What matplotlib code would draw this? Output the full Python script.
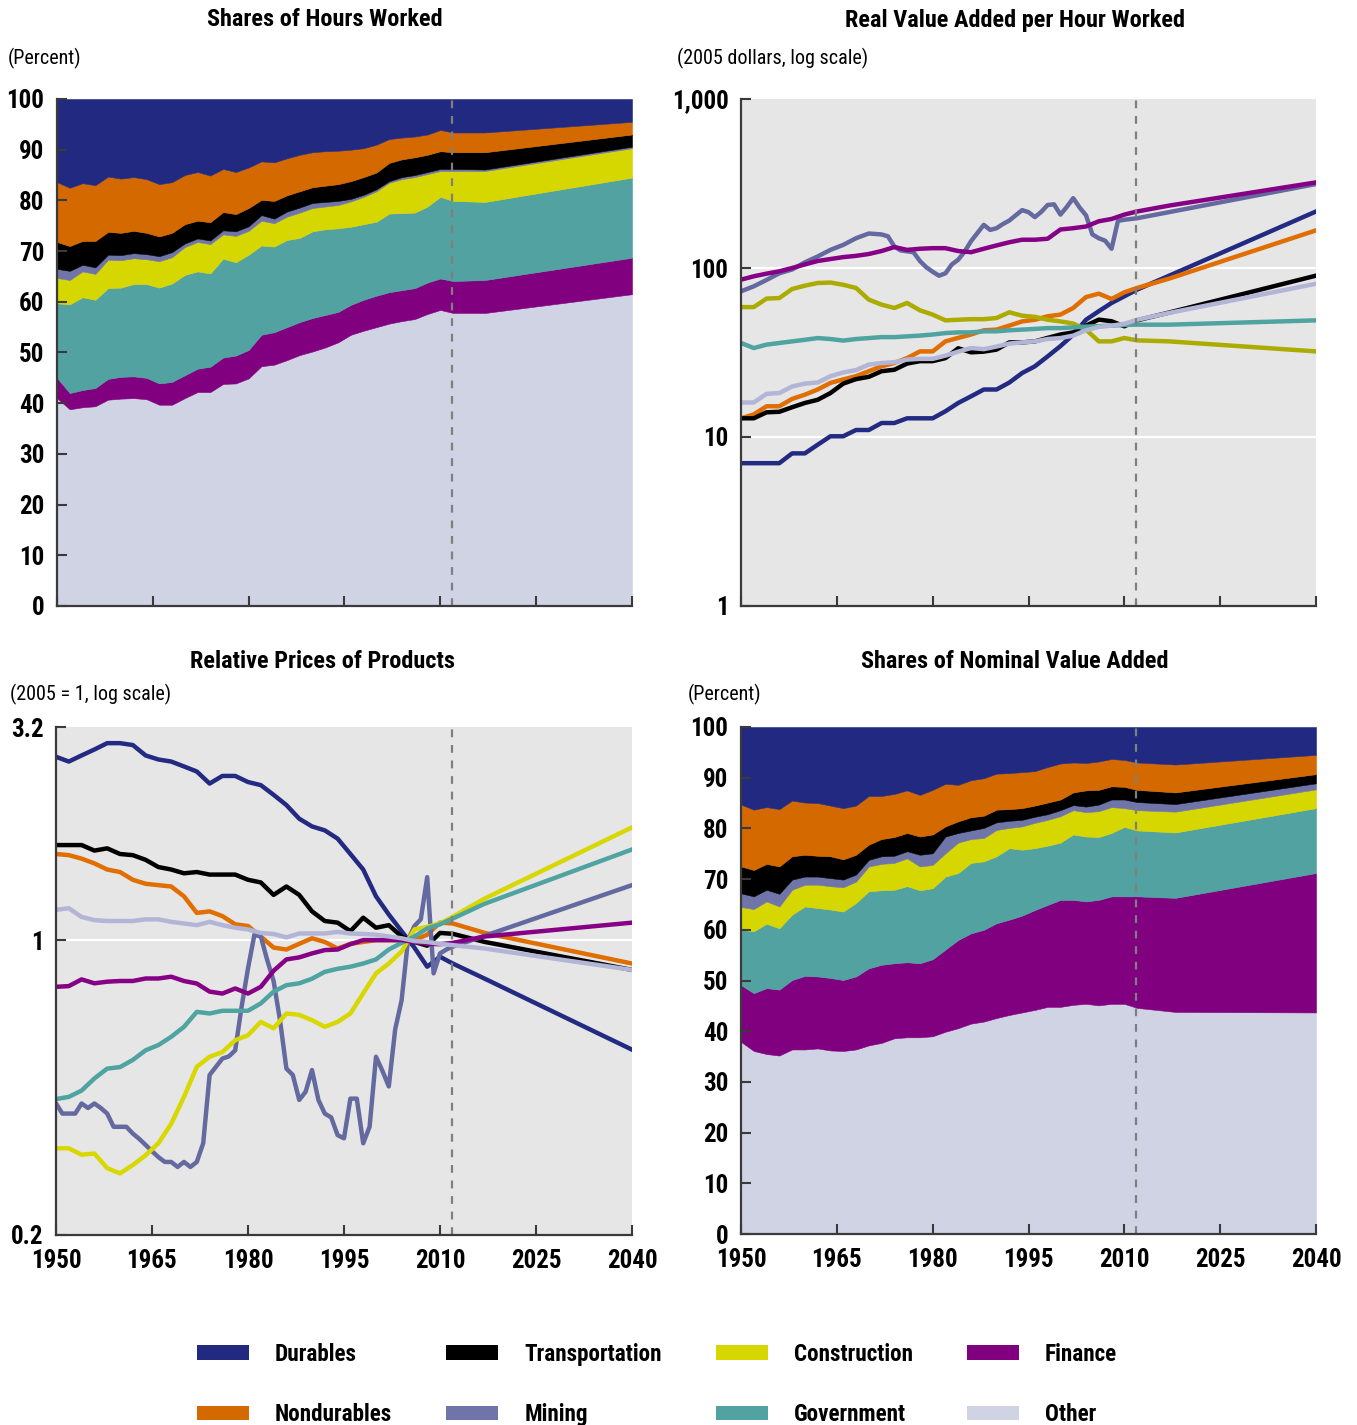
import matplotlib
matplotlib.use("Agg")
import matplotlib.pyplot as plt
from matplotlib import font_manager
from matplotlib.patches import Patch
from matplotlib.ticker import NullLocator

_names = {f.name for f in font_manager.fontManager.ttflist}
FONT = "DejaVu Sans"
for cand in ["Liberation Sans Narrow", "Roboto Condensed", "Liberation Sans"]:
    if cand in _names:
        FONT = cand
        break
plt.rcParams["font.family"] = [FONT, "DejaVu Sans"]

# ---------------------------------------------------------------- data
sectors = ["Durables", "Nondurables", "Transportation", "Mining",
           "Construction", "Government", "Finance", "Other"]

# Shares of hours worked (percent)
hours_years = list(range(1950, 2013, 2)) + [2017, 2040]
hours_other = [41.0, 38.8, 39.2, 39.4, 40.7, 40.9, 41.0, 40.8, 39.7, 39.7, 41.0, 42.2, 42.2, 43.8, 43.9, 44.9, 47.3,
               47.6, 48.5, 49.5, 50.2, 51.0, 52.0, 53.5, 54.3, 55.0, 55.7, 56.2, 56.6, 57.6, 58.4, 57.8, 57.8, 61.5]
hours_finance = [4.0, 3.2, 3.4, 3.6, 4.1, 4.3, 4.3, 4.2, 4.2, 4.5, 4.5, 4.6, 5.0, 5.2, 5.5, 5.6, 6.2,
                 6.4, 6.5, 6.5, 6.6, 6.4, 6.0, 5.9, 6.1, 6.2, 6.2, 6.1, 6.1, 6.2, 6.2, 6.3, 6.5, 7.2]
hours_government = [14.7, 17.5, 18.3, 17.4, 17.9, 17.6, 18.2, 18.5, 18.9, 19.4, 19.8, 19.2, 18.4, 19.5, 18.4, 18.8, 17.6,
                    16.9, 17.2, 16.6, 17.1, 16.9, 16.5, 15.4, 14.9, 14.6, 15.5, 15.2, 14.9, 15.0, 16.1, 15.8, 15.4, 15.8]
hours_construction = [5.0, 4.8, 5.1, 5.1, 5.6, 5.4, 5.1, 4.9, 5.2, 5.2, 5.5, 5.8, 5.8, 4.8, 5.2, 4.7, 4.9,
                      4.6, 4.6, 5.0, 4.6, 4.5, 4.6, 5.0, 5.4, 6.0, 6.1, 6.7, 7.0, 6.4, 5.1, 5.9, 6.1, 5.8]
hours_mining = [1.8, 1.8, 1.3, 1.3, 1.0, 1.0, 1.0, 1.0, 1.0, 1.0, 0.7, 0.7, 0.7, 0.8, 0.9, 0.9, 1.1,
                0.9, 1.0, 1.0, 1.0, 0.9, 0.8, 0.5, 0.4, 0.4, 0.3, 0.4, 0.4, 0.4, 0.4, 0.4, 0.3, 0.3]
hours_transportation = [5.3, 4.9, 4.7, 5.2, 4.5, 4.4, 4.4, 4.2, 3.9, 3.8, 3.8, 3.5, 3.6, 3.6, 3.4, 3.6, 3.0,
                        3.5, 3.2, 3.2, 3.1, 3.2, 3.3, 3.5, 3.5, 3.3, 3.6, 3.5, 3.5, 3.4, 3.5, 3.3, 3.4, 2.4]
hours_nondurables = [11.8, 11.5, 11.4, 11.0, 10.9, 10.7, 10.6, 10.6, 10.3, 10.0, 9.7, 9.6, 9.2, 8.5, 8.3, 8.0, 7.6,
                     7.6, 7.3, 7.2, 6.9, 6.8, 6.6, 6.2, 5.7, 5.5, 4.7, 4.3, 4.1, 4.0, 4.2, 3.9, 3.9, 2.5]
hours_durables = [16.4, 17.5, 16.6, 17.0, 15.3, 15.7, 15.4, 15.8, 16.8, 16.4, 15.0, 14.4, 15.1, 13.8, 14.4, 13.5, 12.3,
                  12.5, 11.7, 11.0, 10.5, 10.3, 10.2, 10.0, 9.7, 9.0, 7.9, 7.6, 7.4, 7.0, 6.1, 6.6, 6.6, 4.5]

# Real value added per hour worked (2005 dollars)
rva_years = list(range(1950, 2013, 2)) + [2017, 2040]
rva_durables = [7.0, 7.0, 7.0, 7.0, 8.0, 8.0, 9.0, 10.1, 10.1, 11.0, 11.0, 12.1, 12.1, 12.9, 12.9, 12.9, 14.2,
                15.9, 17.4, 19.1, 19.1, 21.0, 23.9, 26.2, 30.0, 34.5, 40.3, 49.4, 55.5, 62.1, 68.0, 74.5, 90.0, 216]
rva_nondurables = [12.9, 13.6, 15.2, 15.2, 16.8, 17.8, 19.1, 20.9, 21.9, 22.9, 24.5, 26.2, 27.4, 29.3, 32.1, 32.1, 36.8,
                   38.6, 40.4, 42.8, 43.2, 45.6, 48.3, 49.4, 51.8, 53.0, 58.0, 67.3, 70.5, 65.6, 71.8, 76.2, 86.5, 167]
rva_transportation = [12.9, 12.9, 14.0, 14.1, 15.0, 15.9, 16.6, 18.2, 20.7, 22.0, 22.7, 24.5, 25.0, 27.2, 28.1, 28.1, 29.3,
                      33.5, 31.7, 32.0, 32.9, 36.3, 36.3, 36.8, 38.6, 40.4, 41.6, 45.6, 49.5, 48.4, 45.2, 49.0, 54.5, 90.1]
rva_construction = [58.7, 58.7, 65.9, 66.4, 75.1, 78.6, 81.5, 82.0, 79.6, 76.2, 65.0, 60.7, 58.0, 62.1, 56.2, 53.0, 49.0,
                    49.4, 49.8, 49.8, 50.6, 54.7, 52.2, 51.4, 49.4, 48.3, 46.9, 43.2, 36.8, 36.8, 38.5, 37.3, 36.8, 32.1]
rva_government = [36.0, 33.6, 35.2, 36.0, 36.8, 37.6, 38.5, 38.0, 37.2, 38.0, 38.5, 39.0, 39.0, 39.4, 39.8, 40.4, 41.2,
                  41.6, 41.6, 42.2, 42.2, 42.8, 43.2, 43.6, 44.1, 44.1, 44.5, 45.0, 45.3, 45.6, 46.0, 46.2, 46.2, 49.0]
rva_finance = [85.3, 89.3, 92.6, 95.6, 100, 105, 110, 113, 116, 118, 121, 126, 133, 128, 130, 131, 131,
               126, 124, 130, 136, 142, 147, 147, 149, 169, 172, 176, 189, 195, 207, 216, 234, 321]
rva_other = [16.0, 16.0, 18.0, 18.2, 19.9, 20.7, 21.0, 22.9, 24.1, 24.9, 26.8, 27.4, 27.7, 28.7, 29.0, 29.0, 30.3,
             32.0, 33.6, 33.1, 34.3, 35.7, 36.3, 36.8, 38.0, 38.5, 39.8, 42.8, 44.8, 45.6, 46.8, 49.4, 54.2, 80.7]
rva_mining_years = [1950, 1952, 1954, 1956, 1958, 1960, 1962, 1964, 1966, 1968, 1970, 1972, 1973, 1974, 1975, 1977,
                    1978, 1979, 1980, 1981, 1982, 1983, 1984, 1985, 1986, 1988, 1989, 1990, 1991, 1992, 1993, 1994,
                    1995, 1996, 1997, 1998, 1999, 2000, 2001, 2002, 2003, 2004, 2005, 2006, 2007, 2008, 2009, 2010,
                    2012, 2040]
rva_mining = [72.8, 77.9, 85, 93, 98, 108, 117, 128, 137, 150, 160, 158, 154, 134, 127, 124,
              110, 101, 95, 90, 93, 105, 112, 125, 144, 180, 168, 172, 182, 191, 205, 220,
              214, 200, 215, 236, 238, 207, 230, 259, 228, 205, 158, 150, 145, 130, 190, 193,
              197, 314]

# Relative prices of products (2005 = 1)
price_years = list(range(1950, 2013, 2)) + [2017, 2040]
price_durables = [2.72, 2.65, 2.74, 2.83, 2.93, 2.93, 2.90, 2.74, 2.68, 2.65, 2.58, 2.51, 2.35, 2.45, 2.45, 2.37, 2.33,
                  2.21, 2.09, 1.94, 1.86, 1.82, 1.74, 1.60, 1.47, 1.27, 1.15, 1.05, 0.96, 0.865, 0.913, 0.88, 0.81, 0.55]
price_nondurables = [1.60, 1.59, 1.56, 1.52, 1.47, 1.45, 1.39, 1.36, 1.35, 1.34, 1.27, 1.16, 1.17, 1.14, 1.09, 1.08, 1.02,
                     0.96, 0.95, 0.98, 1.01, 0.99, 0.955, 0.98, 0.99, 1.0, 1.0, 1.0, 1.0, 1.03, 1.10, 1.095, 1.04, 0.88]
price_transportation = [1.68, 1.68, 1.68, 1.63, 1.65, 1.60, 1.59, 1.55, 1.49, 1.47, 1.44, 1.45, 1.43, 1.43, 1.43, 1.39, 1.37,
                        1.28, 1.34, 1.28, 1.17, 1.11, 1.10, 1.05, 1.13, 1.07, 1.085, 1.02, 0.99, 0.97, 1.04, 1.035, 0.99, 0.85]
price_construction = [0.321, 0.321, 0.31, 0.312, 0.288, 0.28, 0.293, 0.309, 0.33, 0.367, 0.425, 0.501, 0.529, 0.543, 0.579,
                      0.595, 0.64, 0.618, 0.67, 0.665, 0.646, 0.623, 0.64, 0.67, 0.748, 0.834, 0.88, 0.94, 1.06, 1.075,
                      1.095, 1.136, 1.255, 1.85]
price_government = [0.42, 0.425, 0.44, 0.47, 0.496, 0.50, 0.52, 0.548, 0.564, 0.59, 0.623, 0.676, 0.67, 0.68, 0.68, 0.68,
                    0.708, 0.755, 0.782, 0.79, 0.81, 0.841, 0.855, 0.865, 0.88, 0.90, 0.95, 0.985, 1.02, 1.066, 1.09,
                    1.125, 1.22, 1.64]
price_finance = [0.775, 0.778, 0.807, 0.79, 0.797, 0.80, 0.80, 0.811, 0.811, 0.819, 0.80, 0.789, 0.755, 0.747, 0.768,
                 0.747, 0.775, 0.846, 0.90, 0.91, 0.93, 0.947, 0.95, 0.978, 1.0, 1.0, 1.0, 1.0, 0.99, 0.98, 0.978,
                 0.985, 1.02, 1.10]
price_other = [1.18, 1.19, 1.135, 1.115, 1.11, 1.11, 1.11, 1.12, 1.12, 1.105, 1.095, 1.085, 1.105, 1.085, 1.07, 1.06,
               1.04, 1.034, 1.015, 1.037, 1.037, 1.037, 1.046, 1.037, 1.034, 1.03, 1.02, 1.01, 0.995, 0.99, 0.98,
               0.973, 0.955, 0.85]
price_mining_years = list(range(1950, 2013)) + [2017, 2040]
price_mining = [0.41, 0.388, 0.388, 0.388, 0.41, 0.40, 0.41, 0.40, 0.388, 0.361, 0.361, 0.361, 0.348, 0.338, 0.327,
                0.316, 0.306, 0.298, 0.298, 0.29, 0.298, 0.29, 0.298, 0.33, 0.479, 0.501, 0.524, 0.53, 0.548, 0.695,
                0.857, 1.03, 1.02, 0.897, 0.80, 0.646, 0.496, 0.479, 0.418, 0.437, 0.492, 0.418, 0.388, 0.38, 0.345,
                0.339, 0.421, 0.421, 0.33, 0.361, 0.529, 0.49, 0.45, 0.615, 0.72, 1.0, 1.08, 1.12, 1.41, 0.834,
                0.93, 0.95, 0.965, 1.024, 1.35]

# Shares of nominal value added (percent)
va_years = list(range(1950, 2013, 2)) + [2018, 2040]
va_other = [37.9, 36.1, 35.5, 35.2, 36.4, 36.4, 36.6, 36.2, 36.1, 36.4, 37.2, 37.7, 38.6, 38.8, 38.8, 39.0, 39.9,
            40.6, 41.5, 41.9, 42.6, 43.2, 43.7, 44.2, 44.8, 44.8, 45.2, 45.4, 45.1, 45.4, 45.4, 44.6, 43.8, 43.7]
va_finance = [11.2, 11.4, 13.0, 13.0, 13.7, 14.5, 14.2, 14.3, 14.0, 14.4, 15.2, 15.4, 14.8, 14.8, 14.6, 15.2, 16.2,
              17.4, 17.8, 18.1, 18.7, 18.8, 19.1, 19.7, 20.1, 21.1, 20.7, 20.2, 20.8, 21.2, 21.2, 22.0, 22.5, 27.5]
va_government = [10.9, 12.2, 12.7, 12.1, 12.9, 13.7, 13.5, 13.5, 13.5, 14.5, 15.2, 14.7, 14.5, 15.0, 14.4, 14.0, 14.4,
                 13.2, 13.9, 13.5, 13.2, 14.1, 13.0, 12.2, 11.7, 11.3, 12.9, 12.8, 12.4, 12.5, 13.7, 13.0, 12.9, 12.8]
va_construction = [4.5, 4.4, 4.4, 4.3, 4.9, 4.3, 4.6, 4.6, 4.8, 4.2, 4.9, 5.2, 5.3, 5.5, 4.7, 4.6, 4.6,
                   6.0, 4.7, 4.6, 5.2, 4.0, 4.6, 5.0, 5.1, 5.2, 4.8, 4.8, 5.1, 5.1, 3.7, 4.0, 4.1, 3.7]
va_mining = [2.7, 2.5, 2.3, 2.5, 2.0, 1.6, 1.6, 1.6, 1.5, 1.4, 1.3, 1.5, 1.4, 1.4, 2.3, 2.3, 3.3,
             1.9, 1.7, 2.0, 1.5, 1.4, 1.3, 1.2, 1.1, 1.2, 1.0, 1.1, 1.3, 1.5, 1.7, 1.6, 1.5, 1.2]
va_transportation = [5.3, 5.2, 5.1, 5.4, 4.6, 4.3, 4.1, 4.3, 4.0, 3.9, 3.0, 3.4, 3.7, 3.6, 3.6, 3.7, 2.0,
                     2.3, 2.6, 2.4, 2.5, 2.3, 2.3, 2.2, 2.3, 2.1, 2.5, 3.2, 2.9, 2.6, 2.5, 2.4, 2.3, 1.8]
va_nondurables = [12.2, 11.9, 11.2, 11.3, 11.0, 10.3, 10.4, 10.0, 10.1, 9.7, 9.6, 8.5, 8.5, 8.4, 8.2, 8.8, 8.4,
                  7.2, 7.3, 7.4, 7.1, 7.1, 7.1, 6.8, 7.0, 7.1, 5.9, 5.4, 5.6, 5.4, 5.3, 5.4, 5.5, 3.8]
va_durables = [15.3, 16.3, 15.8, 16.2, 14.5, 14.9, 15.0, 15.5, 16.0, 15.5, 13.6, 13.6, 13.2, 12.5, 13.4, 12.4, 11.2,
               11.4, 10.5, 10.1, 9.2, 9.1, 8.9, 8.7, 7.9, 7.2, 7.0, 7.1, 6.8, 6.3, 6.5, 7.0, 7.4, 5.5]

projection_start = 2011.8
year_ticks = [1950, 1965, 1980, 1995, 2010, 2025, 2040]

# ---------------------------------------------------------------- styles
area_colors = {"Durables": "#212a80", "Nondurables": "#d46900", "Transportation": "#000000",
               "Mining": "#6f75a8", "Construction": "#d6d600", "Government": "#52a2a2",
               "Finance": "#800080", "Other": "#d0d3e4"}
rva_line_colors = {"Durables": "#222a82", "Nondurables": "#e06e00", "Transportation": "#000000",
                   "Mining": "#646a9f", "Construction": "#acac00", "Government": "#4fa3a1",
                   "Finance": "#860086", "Other": "#b2b5d6"}
price_line_colors = dict(rva_line_colors, Construction="#d8d800")

TICK_FS = 18
BG = "#e6e6e6"
SPINE = "#3a3a3a"

W, H = 1357, 1425
fig = plt.figure(figsize=(W / 100, H / 100), dpi=100)


def axes_px(x0, x1, y0, y1):
    return fig.add_axes([x0 / W, 1 - y1 / H, (x1 - x0) / W, (y1 - y0) / H])


ax_hours = axes_px(57, 632, 99, 606)
ax_rva = axes_px(741, 1316, 99, 606)
ax_price = axes_px(56, 632, 727, 1235)
ax_va = axes_px(741, 1316, 727, 1234)


def base_style(ax, xlabels):
    ax.set_xlim(1950, 2040)
    ax.set_xticks(year_ticks)
    if xlabels:
        ax.set_xticklabels([str(y) for y in year_ticks])
    else:
        ax.tick_params(axis="x", labelbottom=False)
    for s in ["top", "right"]:
        ax.spines[s].set_visible(False)
    for s in ["left", "bottom"]:
        ax.spines[s].set_color(SPINE)
        ax.spines[s].set_linewidth(1.6)
        ax.spines[s].set_zorder(6)
    ax.tick_params(axis="both", which="major", direction="in", length=7, width=1.5,
                   color=SPINE, labelsize=TICK_FS)
    ax.tick_params(axis="y", pad=9)
    ax.tick_params(axis="x", pad=10)
    for lab in ax.get_xticklabels() + ax.get_yticklabels():
        lab.set_fontweight("bold")
    ax.axvline(projection_start, color="#7f7f7f", lw=1.6, ls=(0, (3.5, 3.5)), zorder=5)


def stacked(ax, years, series):
    order = ["Other", "Finance", "Government", "Construction", "Mining",
             "Transportation", "Nondurables", "Durables"]
    polys = ax.stackplot(years, *[series[k] for k in order],
                         colors=[area_colors[k] for k in order], linewidth=0)
    for p, k in zip(polys, order):
        p.set_edgecolor(area_colors[k])
        p.set_linewidth(0.4)
    ax.set_ylim(0, 100)
    ax.set_yticks(range(0, 101, 10))


# ---- Shares of hours worked
stacked(ax_hours, hours_years, {
    "Other": hours_other, "Finance": hours_finance, "Government": hours_government,
    "Construction": hours_construction, "Mining": hours_mining,
    "Transportation": hours_transportation, "Nondurables": hours_nondurables,
    "Durables": hours_durables})
base_style(ax_hours, xlabels=False)

# ---- Shares of nominal value added
stacked(ax_va, va_years, {
    "Other": va_other, "Finance": va_finance, "Government": va_government,
    "Construction": va_construction, "Mining": va_mining,
    "Transportation": va_transportation, "Nondurables": va_nondurables,
    "Durables": va_durables})
base_style(ax_va, xlabels=True)

# ---- Real value added per hour
ax_rva.set_facecolor(BG)
ax_rva.set_yscale("log")
ax_rva.set_ylim(1, 1000)
ax_rva.set_yticks([1, 10, 100, 1000])
ax_rva.set_yticklabels(["1", "10", "100", "1,000"])
ax_rva.yaxis.set_minor_locator(NullLocator())
for v in [10, 100]:
    ax_rva.axhline(v, color="white", lw=1.6, zorder=1)
rva_series = [("Durables", rva_years, rva_durables), ("Nondurables", rva_years, rva_nondurables),
              ("Transportation", rva_years, rva_transportation), ("Mining", rva_mining_years, rva_mining),
              ("Construction", rva_years, rva_construction), ("Government", rva_years, rva_government),
              ("Finance", rva_years, rva_finance), ("Other", rva_years, rva_other)]
for name, yrs, vals in rva_series:
    ax_rva.plot(yrs, vals, color=rva_line_colors[name], lw=3.2, zorder=3, solid_joinstyle="round")
base_style(ax_rva, xlabels=False)

# ---- Relative prices
ax_price.set_facecolor(BG)
ax_price.set_yscale("log")
ax_price.set_ylim(0.2, 3.2)
ax_price.set_yticks([0.2, 1, 3.2])
ax_price.set_yticklabels(["0.2", "1", "3.2"])
ax_price.yaxis.set_minor_locator(NullLocator())
ax_price.axhline(1, color="white", lw=1.6, zorder=1)
price_series = [("Durables", price_years, price_durables), ("Nondurables", price_years, price_nondurables),
                ("Transportation", price_years, price_transportation),
                ("Mining", price_mining_years, price_mining),
                ("Construction", price_years, price_construction), ("Government", price_years, price_government),
                ("Finance", price_years, price_finance), ("Other", price_years, price_other)]
for name, yrs, vals in price_series:
    ax_price.plot(yrs, vals, color=price_line_colors[name], lw=3.2, zorder=3, solid_joinstyle="round")
base_style(ax_price, xlabels=True)

# ---- titles and unit notes
TITLE_FS = 17.5
UNIT_FS = 14.5
fig.text(325 / W, 1 - 20 / H, "Shares of Hours Worked", ha="center", va="center",
         fontsize=TITLE_FS, fontweight="bold")
fig.text(1015 / W, 1 - 20 / H, "Real Value Added per Hour Worked", ha="center", va="center",
         fontsize=TITLE_FS, fontweight="bold")
fig.text(323 / W, 1 - 661 / H, "Relative Prices of Products", ha="center", va="center",
         fontsize=TITLE_FS, fontweight="bold")
fig.text(1015 / W, 1 - 661 / H, "Shares of Nominal Value Added", ha="center", va="center",
         fontsize=TITLE_FS, fontweight="bold")
fig.text(8 / W, 1 - 58 / H, "(Percent)", ha="left", va="center", fontsize=UNIT_FS)
fig.text(677 / W, 1 - 58 / H, "(2005 dollars, log scale)", ha="left", va="center", fontsize=UNIT_FS)
fig.text(10 / W, 1 - 694 / H, "(2005 = 1, log scale)", ha="left", va="center", fontsize=UNIT_FS)
fig.text(688 / W, 1 - 694 / H, "(Percent)", ha="left", va="center", fontsize=UNIT_FS)

# ---- legend
LEG_FS = 16.7
handles = [Patch(facecolor=area_colors[s], edgecolor="none") for s in sectors]
leg = fig.legend(handles, sectors, ncol=4, loc="upper left",
                 bbox_to_anchor=(197 / W, 1 - 1343 / H), frameon=False,
                 prop={"weight": "bold", "size": LEG_FS}, handlelength=2.24, handleheight=0.6,
                 handletextpad=1.12, columnspacing=2.33, labelspacing=1.6,
                 borderpad=0, borderaxespad=0)

fig.savefig("out.png", dpi=100)
